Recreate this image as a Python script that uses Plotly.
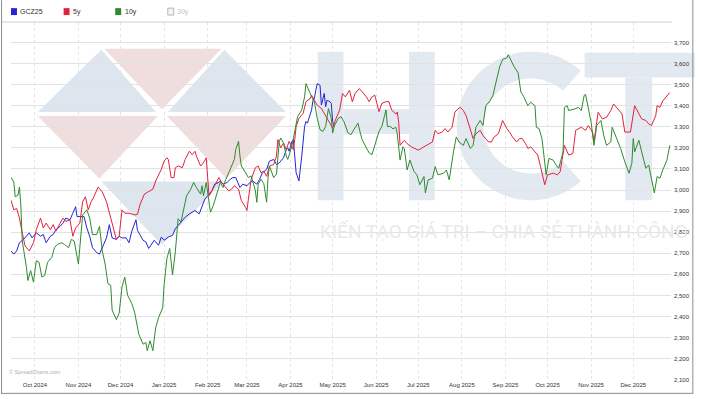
import math
import plotly.graph_objects as go

# ---------------- data ----------------
gcz25 = [
("2024-09-14",2711),("2024-09-16",2696),("2024-09-18",2711),("2024-09-20",2750),("2024-09-23",2766),("2024-09-25",2781),
("2024-09-27",2797),("2024-09-29",2773),("2024-10-01",2789),("2024-10-02",2797),("2024-10-05",2781),("2024-10-07",2789),
("2024-10-09",2750),("2024-10-12",2781),("2024-10-14",2789),("2024-10-16",2812),("2024-10-19",2828),("2024-10-21",2843),
("2024-10-23",2867),("2024-10-26",2859),("2024-10-28",2890),("2024-10-30",2921),("2024-10-31",2874),("2024-11-03",2874),
("2024-11-05",2874),("2024-11-07",2820),("2024-11-09",2781),("2024-11-11",2727),("2024-11-14",2703),("2024-11-16",2696),
("2024-11-18",2727),("2024-11-21",2773),("2024-11-23",2836),("2024-11-25",2773),("2024-11-28",2766),("2024-11-30",2781),
("2024-12-02",2773),("2024-12-05",2773),("2024-12-07",2750),("2024-12-09",2805),("2024-12-12",2859),("2024-12-13",2809),
("2024-12-17",2762),("2024-12-19",2754),("2024-12-21",2723),("2024-12-23",2746),("2024-12-25",2762),("2024-12-28",2738),
("2024-12-30",2777),("2025-01-01",2762),("2025-01-04",2777),("2025-01-07",2785),("2025-01-09",2817),("2025-01-11",2832),
("2025-01-14",2856),("2025-01-16",2871),("2025-01-19",2887),("2025-01-21",2895),("2025-01-23",2903),("2025-01-26",2887),
("2025-01-28",2926),("2025-01-30",2957),("2025-02-01",2973),("2025-02-04",2996),("2025-02-06",3028),("2025-02-09",3036),
("2025-02-10",3043),("2025-02-12",3028),("2025-02-15",3036),("2025-02-17",3051),("2025-02-19",3059),("2025-02-21",3059),
("2025-02-24",3012),("2025-02-26",3028),("2025-03-01",3020),("2025-03-03",3036),("2025-03-05",3043),("2025-03-08",3028),
("2025-03-10",3051),("2025-03-12",3082),("2025-03-15",3098),("2025-03-17",3137),("2025-03-20",3145),("2025-03-22",3121),
("2025-03-24",3129),("2025-03-27",3153),("2025-03-29",3192),("2025-03-30",3200),("2025-03-31",3184),("2025-04-02",3231),
("2025-04-03",3239),("2025-04-04",3161),("2025-04-05",3082),("2025-04-07",3043),("2025-04-08",3098),("2025-04-09",3161),
("2025-04-11",3301),("2025-04-12",3325),("2025-04-13",3317),("2025-04-16",3380),("2025-04-17",3426),("2025-04-18",3434),
("2025-04-19",3473),("2025-04-20",3505),("2025-04-22",3497),("2025-04-23",3403),("2025-04-25",3458),("2025-04-26",3395),
("2025-04-27",3426),("2025-04-29",3419),("2025-04-30",3411),("2025-05-01",3325),("2025-05-02",3301),
]

y5 = [
("2024-09-14",2952),("2024-09-16",2906),("2024-09-18",2913),("2024-09-20",2867),("2024-09-22",2797),("2024-09-24",2735),
("2024-09-26",2719),("2024-09-27",2711),("2024-09-30",2750),("2024-10-02",2812),("2024-10-05",2867),("2024-10-07",2820),
("2024-10-09",2843),("2024-10-12",2812),("2024-10-14",2836),("2024-10-16",2805),("2024-10-19",2843),("2024-10-21",2867),
("2024-10-23",2851),("2024-10-26",2859),("2024-10-28",2781),("2024-10-30",2820),("2024-11-02",2843),("2024-11-04",2944),
("2024-11-06",2968),("2024-11-08",2906),("2024-11-10",2944),("2024-11-12",2968),("2024-11-15",3014),("2024-11-18",2991),
("2024-11-21",2944),("2024-11-23",2890),("2024-11-25",2836),("2024-11-28",2766),("2024-11-30",2781),("2024-12-02",2906),
("2024-12-04",2890),("2024-12-07",2890),("2024-12-11",2882),("2024-12-13",2885),("2024-12-15",2934),("2024-12-18",2981),
("2024-12-20",2989),("2024-12-24",3004),("2024-12-26",3043),("2024-12-30",3098),("2025-01-01",3137),("2025-01-03",3153),
("2025-01-04",3145),("2025-01-06",3059),("2025-01-08",3059),("2025-01-09",3106),("2025-01-11",3114),("2025-01-14",3106),
("2025-01-16",3145),("2025-01-19",3184),("2025-01-21",3168),("2025-01-23",3184),("2025-01-24",3161),("2025-01-27",3114),
("2025-01-29",3129),("2025-01-31",3153),("2025-02-01",3059),("2025-02-02",2973),("2025-02-04",2996),("2025-02-06",3020),
("2025-02-09",3059),("2025-02-11",3035),("2025-02-13",3020),("2025-02-16",2996),("2025-02-18",3004),("2025-02-20",3020),
("2025-02-23",3004),("2025-02-25",2950),("2025-02-28",2918),("2025-03-01",2903),("2025-03-02",2957),("2025-03-04",3051),
("2025-03-07",3106),("2025-03-09",3114),("2025-03-11",3082),("2025-03-13",3090),("2025-03-15",3065),("2025-03-17",3114),
("2025-03-20",3121),("2025-03-22",3161),("2025-03-23",3239),("2025-03-25",3200),("2025-03-27",3223),("2025-03-29",3192),
("2025-03-31",3231),("2025-04-03",3192),("2025-04-04",3239),("2025-04-05",3301),("2025-04-07",3340),("2025-04-10",3364),
("2025-04-12",3419),("2025-04-15",3434),("2025-04-16",3450),("2025-04-18",3426),("2025-04-20",3403),("2025-04-23",3387),
("2025-04-25",3364),("2025-04-27",3340),("2025-04-30",3309),("2025-05-01",3294),("2025-05-03",3333),("2025-05-06",3380),
("2025-05-08",3458),("2025-05-10",3442),("2025-05-13",3473),("2025-05-15",3419),("2025-05-17",3458),("2025-05-20",3481),
("2025-05-22",3466),("2025-05-25",3442),("2025-05-27",3419),("2025-05-29",3442),("2025-05-31",3450),("2025-06-03",3372),
("2025-06-05",3411),("2025-06-08",3419),("2025-06-10",3419),("2025-06-12",3380),("2025-06-15",3360),("2025-06-16",3370),
("2025-06-17",3322),("2025-06-18",3212),("2025-06-21",3236),("2025-06-23",3220),("2025-06-26",3205),("2025-07-01",3189),
("2025-07-05",3205),("2025-07-08",3216),("2025-07-11",3228),("2025-07-13",3283),("2025-07-15",3267),("2025-07-18",3275),
("2025-07-20",3291),("2025-07-22",3275),("2025-07-25",3298),("2025-07-27",3369),("2025-07-29",3384),("2025-07-31",3392),
("2025-08-02",3377),("2025-08-04",3353),("2025-08-07",3291),("2025-08-09",3244),("2025-08-11",3267),("2025-08-14",3283),
("2025-08-16",3259),("2025-08-20",3228),("2025-08-22",3228),("2025-08-24",3252),("2025-08-27",3267),("2025-08-30",3330),
("2025-09-02",3291),("2025-09-04",3275),("2025-09-06",3252),("2025-09-09",3228),("2025-09-11",3244),("2025-09-13",3244),
("2025-09-16",3212),("2025-09-17",3197),("2025-09-19",3205),("2025-09-22",3181),("2025-09-24",3166),("2025-09-26",3111),
("2025-09-29",3025),("2025-10-01",3072),("2025-10-05",3080),("2025-10-08",3072),("2025-10-10",3087),("2025-10-13",3212),
("2025-10-16",3166),("2025-10-19",3173),("2025-10-21",3283),("2025-10-25",3298),("2025-10-28",3283),("2025-10-30",3306),
("2025-11-02",3275),("2025-11-03",3228),("2025-11-06",3369),("2025-11-09",3337),("2025-11-12",3345),("2025-11-15",3377),
("2025-11-17",3408),("2025-11-21",3377),("2025-11-23",3361),("2025-11-25",3275),("2025-11-29",3275),("2025-12-02",3400),
("2025-12-05",3361),("2025-12-07",3337),("2025-12-10",3330),("2025-12-12",3314),("2025-12-14",3306),("2025-12-17",3353),
("2025-12-18",3400),("2025-12-20",3392),("2025-12-22",3423),("2025-12-25",3447),("2025-12-27",3462),
]

y10 = [
("2024-09-14",3061),("2024-09-16",3038),("2024-09-17",2968),("2024-09-19",2976),("2024-09-20",3014),("2024-09-21",2929),
("2024-09-22",2758),("2024-09-24",2680),("2024-09-25",2633),("2024-09-26",2571),("2024-09-28",2618),("2024-09-30",2563),
("2024-10-02",2665),("2024-10-04",2657),("2024-10-06",2587),("2024-10-08",2595),("2024-10-10",2657),("2024-10-13",2680),
("2024-10-15",2727),("2024-10-17",2742),("2024-10-20",2750),("2024-10-22",2742),("2024-10-25",2727),("2024-10-27",2766),
("2024-10-29",2758),("2024-11-01",2649),("2024-11-03",2805),("2024-11-04",2882),("2024-11-07",2906),("2024-11-09",2867),
("2024-11-11",2789),("2024-11-14",2789),("2024-11-16",2828),("2024-11-18",2711),("2024-11-20",2649),("2024-11-22",2556),
("2024-11-24",2548),("2024-11-25",2431),("2024-11-28",2385),("2024-11-30",2416),("2024-12-02",2540),("2024-12-04",2587),
("2024-12-06",2501),("2024-12-09",2462),("2024-12-11",2420),("2024-12-13",2355),("2024-12-14",2316),("2024-12-17",2269),
("2024-12-19",2277),("2024-12-20",2238),("2024-12-22",2285),("2024-12-24",2238),("2024-12-26",2347),("2024-12-28",2394),
("2024-12-31",2441),("2025-01-01",2551),("2025-01-02",2613),("2025-01-03",2676),("2025-01-05",2723),("2025-01-07",2598),
("2025-01-09",2707),("2025-01-11",2864),("2025-01-13",2848),("2025-01-15",2918),("2025-01-17",2973),("2025-01-20",3004),
("2025-01-22",3036),("2025-01-24",3012),("2025-01-27",2981),("2025-01-28",3020),("2025-01-29",2973),("2025-01-31",3036),
("2025-02-03",2895),("2025-02-05",2926),("2025-02-08",2989),("2025-02-10",3036),("2025-02-12",3012),("2025-02-13",3036),
("2025-02-16",3082),("2025-02-18",3114),("2025-02-20",3145),("2025-02-21",3192),("2025-02-23",3231),("2025-02-24",3161),
("2025-02-25",3114),("2025-02-28",3082),("2025-03-02",3059),("2025-03-04",3067),("2025-03-07",2996),("2025-03-08",2942),
("2025-03-09",3028),("2025-03-11",3051),("2025-03-13",3030),("2025-03-15",2942),("2025-03-16",3060),("2025-03-17",3114),
("2025-03-20",3059),("2025-03-22",3075),("2025-03-24",3231),("2025-03-25",3247),("2025-03-27",3223),("2025-03-29",3161),
("2025-03-30",3145),("2025-04-02",3208),("2025-04-04",3286),("2025-04-06",3348),("2025-04-09",3380),("2025-04-11",3442),
("2025-04-12",3505),("2025-04-15",3450),("2025-04-16",3442),("2025-04-18",3419),("2025-04-20",3340),("2025-04-22",3286),
("2025-04-24",3278),("2025-04-26",3301),("2025-04-28",3387),("2025-04-30",3340),("2025-05-01",3270),("2025-05-02",3301),
("2025-05-05",3340),("2025-05-07",3348),("2025-05-09",3325),("2025-05-12",3270),("2025-05-14",3262),("2025-05-16",3286),
("2025-05-19",3317),("2025-05-21",3262),("2025-05-22",3239),("2025-05-25",3200),("2025-05-27",3176),("2025-05-29",3168),
("2025-05-31",3208),("2025-06-03",3278),("2025-06-05",3301),("2025-06-08",3380),("2025-06-09",3301),("2025-06-11",3301),
("2025-06-13",3290),("2025-06-15",3298),("2025-06-16",3267),("2025-06-18",3142),("2025-06-20",3205),("2025-06-21",3197),
("2025-06-23",3095),("2025-06-25",3142),("2025-06-28",3087),("2025-06-30",3072),("2025-07-02",3025),("2025-07-05",3064),
("2025-07-06",2986),("2025-07-08",3048),("2025-07-11",3056),("2025-07-13",3111),("2025-07-15",3072),("2025-07-19",3080),
("2025-07-21",3095),("2025-07-23",3048),("2025-07-26",3181),("2025-07-28",3252),("2025-07-30",3228),("2025-08-02",3212),
("2025-08-04",3244),("2025-08-07",3197),("2025-08-09",3212),("2025-08-11",3298),("2025-08-14",3330),("2025-08-16",3306),
("2025-08-18",3400),("2025-08-21",3423),("2025-08-23",3447),("2025-08-25",3509),("2025-08-28",3587),("2025-08-30",3619),
("2025-09-02",3627),("2025-09-03",3642),("2025-09-05",3611),("2025-09-07",3587),("2025-09-10",3556),("2025-09-12",3465),
("2025-09-14",3443),("2025-09-17",3400),("2025-09-19",3416),("2025-09-22",3400),("2025-09-23",3298),("2025-09-25",3291),
("2025-09-27",3244),("2025-09-29",3119),("2025-09-30",3072),("2025-10-02",3150),("2025-10-05",3142),("2025-10-07",3119),
("2025-10-09",3103),("2025-10-12",3181),("2025-10-13",3392),("2025-10-15",3400),("2025-10-16",3377),("2025-10-20",3384),
("2025-10-23",3392),("2025-10-25",3377),("2025-10-27",3447),("2025-10-28",3455),("2025-10-30",3392),("2025-11-01",3322),
("2025-11-03",3212),("2025-11-05",3306),("2025-11-08",3330),("2025-11-10",3259),("2025-11-12",3212),("2025-11-15",3228),
("2025-11-16",3298),("2025-11-18",3267),("2025-11-22",3197),("2025-11-25",3134),("2025-11-28",3080),("2025-11-30",3127),
("2025-12-01",3244),("2025-12-02",3181),("2025-12-05",3236),("2025-12-07",3181),("2025-12-10",3103),("2025-12-12",3119),
("2025-12-14",3056),("2025-12-16",2986),("2025-12-18",3064),("2025-12-20",3056),("2025-12-22",3095),("2025-12-25",3142),
("2025-12-27",3212),
]

series_names = ["GCZ25", "5y", "10y", "30y"]
series_colors = ["#2424d8", "#e2213c", "#2f8a2f", "#bdbdbd"]
y_ticks = list(range(2100, 3800, 100))

# ---------------- geometry helpers (decoration only) ----------------
W, H = 701, 399
X0, X1, Y0, Y1 = 11, 676, 22, 383.5   # plot area in pixels


def pp(x, y):
    return (x - X0) / (X1 - X0), (Y1 - y) / (Y1 - Y0)


def poly(points, color, layer="below"):
    pts = [pp(x, y) for x, y in points]
    path = "M " + " L ".join(f"{a:.5f},{b:.5f}" for a, b in pts) + " Z"
    return dict(type="path", xref="paper", yref="paper", path=path,
                fillcolor=color, line=dict(width=0), layer=layer)


def rect(x0, y0, x1, y1, color, layer="below", line=None):
    a0, b0 = pp(x0, y0)
    a1, b1 = pp(x1, y1)
    return dict(type="rect", xref="paper", yref="paper", x0=a0, y0=b1, x1=a1, y1=b0,
                fillcolor=color, line=line or dict(width=0), layer=layer)


def hline(x0, x1, y, color, width=1):
    a0, b = pp(x0, y)
    a1, _ = pp(x1, y)
    return dict(type="line", xref="paper", yref="paper", x0=a0, x1=a1, y0=b, y1=b,
                line=dict(color=color, width=width), layer="above")


def vline(x, y0, y1, color, width=1):
    a, b0 = pp(x, y0)
    _, b1 = pp(x, y1)
    return dict(type="line", xref="paper", yref="paper", x0=a, x1=a, y0=b0, y1=b1,
                line=dict(color=color, width=width), layer="above")


BLUE_W = "#dde5ef"
RED_W = "#f0dede"
LET_W = "#e3e9f1"

shapes = []
# logo triangles
shapes.append(poly([(38, 113), (102, 50), (157, 113)], BLUE_W))
shapes.append(poly([(105, 49), (223, 49), (163, 110)], RED_W))
shapes.append(poly([(169, 113), (226, 50), (288, 113)], BLUE_W))
shapes.append(poly([(38, 117), (159, 117), (100, 180)], RED_W))
shapes.append(poly([(168, 117), (288, 117), (228, 180)], RED_W))
shapes.append(poly([(102, 183), (225, 183), (163, 247)], BLUE_W))
# H
shapes.append(rect(320, 52, 346, 202, LET_W))
shapes.append(rect(412, 52, 438, 202, LET_W))
shapes.append(rect(346, 110, 412, 135, LET_W))
# C
cx, cy, ro, ri = 535, 127, 75, 48
outer = [(cx + ro * math.cos(math.radians(a)), cy - ro * math.sin(math.radians(a))) for a in range(48, 313, 4)]
inner = [(cx + ri * math.cos(math.radians(a)), cy - ri * math.sin(math.radians(a))) for a in range(312, 47, -4)]
shapes.append(poly(outer + inner, LET_W))
# T
shapes.append(rect(589, 53, 700, 78, LET_W))
shapes.append(rect(630, 78, 657, 202, LET_W))

# frame
shapes.append(hline(2, 677, 22, "#d0d0d0"))
shapes.append(vline(1.5, 0, 397.5, "#8c8c8c"))
shapes.append(vline(698, 0, 397.5, "#8c8c8c"))
shapes.append(hline(1.5, 698, 397, "#8c8c8c"))

# legend squares
leg_x = [11, 64, 116, 169]
for i, (nm, col) in enumerate(zip(series_names, series_colors)):
    if i < 3:
        shapes.append(rect(leg_x[i], 8, leg_x[i] + 6, 15, col, layer="above"))
    else:
        shapes.append(rect(leg_x[i], 8, leg_x[i] + 6, 15, "#f4f4f4", layer="above",
                           line=dict(color="#b5b5b5", width=1)))

annotations = []
for i, nm in enumerate(series_names):
    ax, ay = pp(leg_x[i] + 7.5, 11.5)
    annotations.append(dict(xref="paper", yref="paper", x=ax, y=ay, text=nm, showarrow=False,
                            xanchor="left", yanchor="middle",
                            font=dict(size=7, color="#c4c4c4" if i == 3 else "#333333",
                                      family="Liberation Sans")))

tx, ty = pp(320, 234)
annotations.append(dict(xref="paper", yref="paper", x=tx, y=ty, xanchor="left", yanchor="middle",
                        text="KIẾN TẠO GIÁ TRỊ – CHIA SẺ THÀNH CÔNG", showarrow=False,
                        font=dict(size=19, color="#e9e9e9", family="Roboto")))
cx_, cy_ = pp(7, 375)
annotations.append(dict(xref="paper", yref="paper", x=cx_, y=cy_, xanchor="left", yanchor="middle",
                        text="© SpreadCharts.com", showarrow=False,
                        font=dict(size=5.5, color="#b0b0b0", family="Liberation Sans")))

fig = go.Figure()
for data, nm, col in [(gcz25, "GCZ25", series_colors[0]), (y5, "5y", series_colors[1]), (y10, "10y", series_colors[2])]:
    fig.add_trace(go.Scatter(x=[d for d, _ in data], y=[v for _, v in data], mode="lines", name=nm,
                             line=dict(color=col, width=1), hoverinfo="x+y+name"))

fig.update_layout(
    width=W, height=H, autosize=False,
    margin=dict(l=X0, r=W - X1, t=Y0, b=H - Y1, pad=0),
    paper_bgcolor="white", plot_bgcolor="rgba(0,0,0,0)",
    showlegend=False,
    shapes=shapes, annotations=annotations,
    xaxis=dict(type="date", range=["2024-09-14", "2025-12-27 21:00"], tick0="2024-10-01", dtick="M1",
               tickformat="%b %Y", showgrid=True, gridcolor="#e4e4e4", griddash="dot", gridwidth=1,
               zeroline=False, showline=False, ticks="",
               tickfont=dict(size=6, color="#333333", family="Liberation Sans")),
    yaxis=dict(side="right", range=[2099, 3797], tickvals=y_ticks,
               ticktext=[f"{v:,}" for v in y_ticks], showgrid=True, gridcolor="#e2e2e2", gridwidth=1,
               zeroline=False, showline=False, ticks="", ticklabelstandoff=2,
               tickfont=dict(size=6, color="#333333", family="Liberation Sans")),
)

fig.write_html("out.html")
